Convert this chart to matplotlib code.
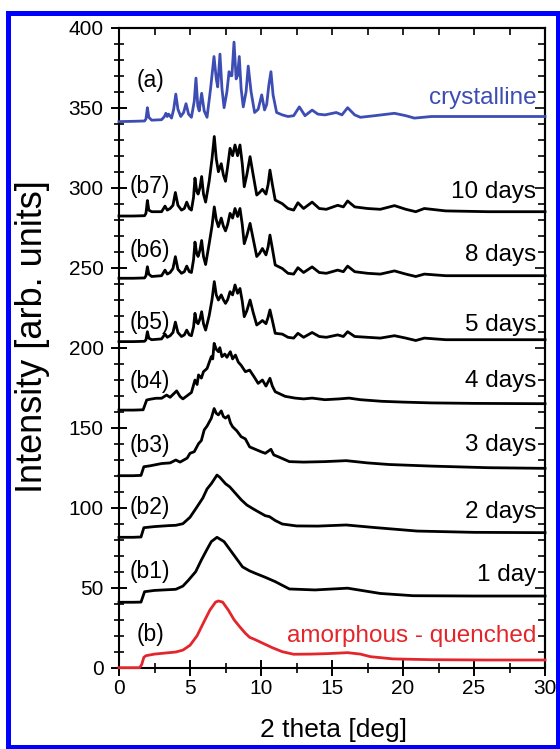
import matplotlib
matplotlib.use("Agg")
import matplotlib.pyplot as plt
from matplotlib.patches import Rectangle
from matplotlib.ticker import MultipleLocator

plt.rcParams['font.family'] = ['Liberation Sans', 'DejaVu Sans']

#stacking offsets of each pattern
OFFSETS = {"a": 340, "b7": 280, "b6": 240, "b5": 200, "b4": 160, "b3": 120, "b2": 80, "b1": 40, "b": 0}

#crystalline pattern (a)
x_a = [0, 1.0, 1.8, 1.9, 2.0, 2.1, 2.3, 3.0, 3.2, 3.3, 3.4, 3.5, 3.7, 3.85, 4.0, 4.15, 4.35, 4.55,
       4.72, 4.9, 5.1, 5.3, 5.42, 5.55, 5.65, 5.82, 6.0, 6.2, 6.45, 6.69, 6.85, 6.95, 7.11, 7.25, 7.4,
       7.6, 7.75, 7.88, 7.95, 8.1, 8.25, 8.35, 8.47, 8.6, 8.75, 8.95, 9.1, 9.3, 9.55, 9.8, 10.05,
       10.25, 10.4, 10.55, 10.7, 10.85, 11.1, 11.5, 11.9, 12.3, 12.7, 13.1, 13.6, 14.0, 14.5, 15.3,
       15.7, 16.1, 16.6, 17.0, 18.0, 19.4, 20.2, 20.8, 22, 25, 28, 30]
y_a = [1.3, 1.5, 1.7, 3, 10, 4, 2.2, 2.5, 4.5, 6.5, 4.5, 6, 3.5, 9, 18.5, 9, 4.5, 7,
       12.5, 6, 4, 14, 28.5, 11, 8, 19, 8, 4, 22, 42, 28, 23, 43.5, 22, 10,
       20, 32.5, 30, 30, 51, 28, 30, 42, 22, 10.5, 20, 36, 20, 7, 9, 18,
       8.6, 12, 24, 32.5, 18, 7, 5.5, 4.5, 5, 10.5, 5, 8.5, 6, 5.5, 7,
       5.5, 10, 5.5, 4, 5, 6.5, 5, 3.5, 4.5, 4.5, 4.5, 4.5]

#annealed patterns b5 - b7 share the same peak positions
x_b = [0, 1.0, 1.8, 1.9, 2.0, 2.1, 2.3, 3.0, 3.24, 3.4, 3.6, 3.8, 3.97, 4.15, 4.4, 4.6, 4.77, 4.95,
       5.1, 5.25, 5.35, 5.47, 5.57, 5.7, 5.82, 5.95, 6.1, 6.35, 6.55, 6.71, 6.85, 7.0, 7.2, 7.35,
       7.5, 7.65, 7.82, 8.0, 8.17, 8.35, 8.52, 8.68, 8.82, 9.0, 9.23, 9.45, 9.7, 9.9, 10.1, 10.35,
       10.5, 10.63, 10.8, 11.0, 11.5, 11.9, 12.3, 12.6, 13.0, 13.6, 14.1, 14.6, 15.4, 15.8, 16.1,
       16.6, 17.5, 18.4, 19.4, 20.2, 20.9, 21.5, 23, 26, 30]
y_b7 = [2.3, 2.3, 2.5, 4, 12, 6, 5, 5, 8.5, 6, 7, 9, 17, 9, 6, 7, 11, 7,
        6, 14, 26, 18, 16, 20, 27, 16, 11, 24, 38, 52, 38, 30, 35, 28,
        24, 33, 44.6, 40, 46.7, 40, 46.7, 35, 20.6, 28, 39.4, 28, 15.4, 17, 19, 16,
        22, 31, 22, 12.3, 10, 7, 6, 10.6, 7, 11, 7, 6.5, 9, 8, 11.7,
        8, 7, 6.5, 8.8, 6.5, 5, 7, 5.5, 5, 5]
y_b6 = [3.4, 3.4, 3.6, 5, 10.6, 6, 4.5, 5, 8.5, 6, 7, 9.5, 16.9, 9, 6.5, 7.5, 11, 7.5,
        7, 15, 26, 19, 17, 21, 27, 17, 12, 25, 36, 48, 40, 35.6, 41, 36,
        33, 37, 44, 41, 47, 42, 47, 37, 25, 30, 37.7, 28, 17, 19, 22, 18,
        23, 30.4, 22, 11.7, 9.5, 6.5, 6, 10, 7, 10.5, 7, 6.5, 8.5, 7.5, 11,
        7.5, 6.5, 6, 8, 6, 4.5, 6, 5, 5, 5]
y_b5 = [3.8, 3.8, 4, 5, 10, 6, 5, 5.5, 8.5, 6.5, 7.5, 9.5, 16, 9.5, 7, 8, 11, 8,
        7.5, 13, 21.5, 16, 15, 18, 22.5, 15, 11, 20, 30, 41.3, 33, 29.8, 33, 30,
        27.7, 30, 35, 33, 39.2, 34, 37, 29, 19.4, 23, 29.8, 22, 14.2, 15.5, 17, 15,
        19, 23.6, 17, 9, 8.5, 6.5, 6, 9, 6.5, 9.5, 7, 6.5, 8, 7, 10,
        7, 6.5, 6, 7.5, 6, 4.5, 6, 5, 5, 5]

#4 days
x_b4 = [0, 1.0, 1.7, 1.95, 2.2, 2.6, 3.0, 3.35, 3.6, 4.06, 4.3, 4.5, 4.8, 5.1, 5.35, 5.5, 5.6, 5.8,
        5.95, 6.2, 6.5, 6.6, 6.7, 6.85, 7.0, 7.1, 7.25, 7.45, 7.6, 7.84, 8.0, 8.2, 8.4, 8.6, 8.9,
        9.2, 9.5, 9.8, 10.1, 10.35, 10.63, 10.8, 11.0, 11.7, 12.4, 13.0, 13.6, 14.5, 15.5, 16.2,
        17.0, 18.5, 20, 22, 25, 30]
y_b4 = [1, 1, 1.2, 7.3, 7.8, 8.4, 8.4, 10.4, 9, 13, 9.5, 8, 10, 12, 19.8, 17, 23, 21,
        25, 27, 34.4, 33, 42.7, 39, 37.5, 40, 34.4, 36, 34, 37.5, 33, 35.4, 31, 29, 25,
        26, 22, 17.7, 19.8, 16, 20.9, 16, 12.5, 9.6, 8.5, 8, 8.5, 7.5, 8, 8.5,
        7.5, 6.5, 6, 5.5, 5.2, 5]

#3 days
x_b3 = [0, 1.0, 1.55, 1.75, 2.2, 3.0, 3.6, 4.0, 4.3, 4.8, 5.0, 5.3, 5.6, 5.8, 6.0, 6.2, 6.5, 6.7,
        6.85, 7.0, 7.2, 7.35, 7.5, 7.7, 7.85, 8.0, 8.3, 8.6, 8.9, 9.2, 9.6, 10.0, 10.3, 10.7, 10.9,
        11.2, 12.0, 13.0, 14.5, 16.0, 17.5, 19.0, 22.0, 26, 30]
y_b3 = [0, 0, 0.2, 5.6, 6.2, 7.6, 8, 9.8, 8.5, 11, 14, 15, 20, 22, 28.6, 31, 35.9, 42,
        39, 38, 40.5, 37, 36, 37.5, 33, 30.6, 28, 24.4, 23, 18, 16.5, 15, 14, 16.5, 13,
        11.9, 8.8, 8.5, 8.8, 9.4, 8, 7, 6, 5, 4.6]

#2 days
x_b2 = [0, 1.0, 1.55, 1.75, 2.5, 3.5, 4.0, 4.5, 5.0, 5.5, 5.9, 6.2, 6.5, 6.9, 7.1, 7.5, 7.8, 8.2,
        8.6, 9.0, 9.5, 10.0, 10.3, 10.6, 11.0, 11.5, 12.5, 14.0, 16.0, 18.0, 21.0, 25, 30]
y_b2 = [1.5, 1.5, 1.7, 7.5, 8.2, 8.8, 9, 10, 14, 20.6, 26, 31.7, 35, 40.4, 39, 35, 33, 29,
        25, 21.7, 19, 16.5, 15, 14.4, 12, 9.8, 8.6, 8.5, 9.2, 7.6, 5.4, 4.6, 4.4]

#1 day
x_b1 = [0, 1.0, 1.55, 1.8, 2.5, 4.0, 4.5, 4.9, 5.4, 5.8, 6.2, 6.5, 6.9, 7.4, 8.0, 8.7, 9.2, 9.6,
        10.3, 11.0, 12.0, 13.8, 16.1, 18.4, 20.7, 25, 30]
y_b1 = [0.9, 0.9, 1.0, 7.5, 8.3, 9, 11, 14.8, 20, 27.3, 34, 38.8, 41.5, 38.8, 31.5, 23, 20.5, 19,
        16.5, 13.8, 9.2, 8.6, 9.7, 6.4, 5, 4.8, 4.8]

#amorphous - quenched (b)
x_am = [0, 1.45, 1.6, 1.75, 1.9, 2.5, 3.3, 4.0, 4.5, 5.0, 5.5, 6.0, 6.4, 6.8, 7.0, 7.3, 7.7, 8.1,
        8.5, 8.9, 9.2, 9.6, 10.1, 10.8, 11.5, 12.3, 13.5, 14.7, 16.1, 17.0, 17.7, 19.3, 22, 26, 30]
y_am = [0, 0, 2, 6.5, 7.5, 8.5, 9.2, 9.8, 11, 14, 20, 29, 36, 41, 41.7, 41, 36, 30,
        25.6, 21.5, 19, 17.5, 15.4, 12.5, 10, 8.4, 8.5, 8.8, 9.4, 8.5, 6.9, 5.5, 5, 4.8, 4.8]

#left tags, right names
tags = ["(a)", "(b7)", "(b6)", "(b5)", "(b4)", "(b3)", "(b2)", "(b1)", "(b)"]
names = ["crystalline", "10 days", "8 days", "5 days", "4 days", "3 days", "2 days", "1 day",
         "amorphous - quenched"]
tag_y = [367, 301, 261, 216, 179, 139, 100, 60, 20.5]
name_y = [356, 297.5, 258, 214, 179, 139, 97.5, 58, 20]

BLUE = "#3d4db3"
RED = "#e3262b"

fig = plt.figure(figsize=(5.6, 7.49), dpi=100)
ax = fig.add_axes([119 / 560, 81.3 / 749, 426 / 560, 640 / 749])

curves = [(x_a, y_a, "a", BLUE), (x_b, y_b7, "b7", "black"), (x_b, y_b6, "b6", "black"),
          (x_b, y_b5, "b5", "black"), (x_b4, y_b4, "b4", "black"), (x_b3, y_b3, "b3", "black"),
          (x_b2, y_b2, "b2", "black"), (x_b1, y_b1, "b1", "black"), (x_am, y_am, "b", RED)]
for xs, ys, key, col in curves:
    ax.plot(xs, [v + OFFSETS[key] for v in ys], color=col, lw=2.0, clip_on=False, zorder=3,
            solid_joinstyle="round")

for i in range(len(tags)):
    ax.text(2.2, tag_y[i], tags[i], fontsize=16.5, ha="center", va="center")
    col = BLUE if i == 0 else (RED if i == len(names) - 1 else "black")
    ax.text(29.4, name_y[i], names[i], fontsize=17.5, ha="right", va="center", color=col)

ax.set_xlim(0, 30)
ax.set_ylim(0, 400)
ax.xaxis.set_major_locator(MultipleLocator(5))
ax.xaxis.set_minor_locator(MultipleLocator(2.5))
ax.yaxis.set_major_locator(MultipleLocator(50))
ax.yaxis.set_minor_locator(MultipleLocator(10))
ax.tick_params(which="major", direction="inout", length=12, width=1.4, labelsize=15, pad=2)
ax.tick_params(axis="y", which="major", pad=5)
ax.tick_params(which="minor", direction="inout", length=7, width=1.2)
for s in ax.spines.values():
    s.set_linewidth(1.5)

#top and right ticks point inward only
top = ax.secondary_xaxis("top")
top.xaxis.set_major_locator(MultipleLocator(5))
top.xaxis.set_minor_locator(MultipleLocator(2.5))
top.tick_params(which="both", direction="in", length=5, width=1.2, labeltop=False)
right = ax.secondary_yaxis("right")
right.yaxis.set_major_locator(MultipleLocator(50))
right.yaxis.set_minor_locator(MultipleLocator(10))
right.tick_params(which="major", direction="in", length=7, width=1.2, labelright=False)
right.tick_params(which="minor", direction="in", length=5, width=1.2)
top.spines["top"].set_linewidth(1.5)
right.spines["right"].set_linewidth(1.5)

fig.text(333 / 560, 1 - 730 / 749, "2 theta [deg]", fontsize=19, ha="center", va="center")
fig.text(33 / 560, 1 - 337 / 749, "Intensity [arb. units]", fontsize=26, ha="center",
         va="center", rotation=90)

#blue frame round the picture
fig.patches.append(Rectangle((7.5 / 560, 2.5 / 749), 550 / 560, 734 / 749, transform=fig.transFigure,
                             fill=False, edgecolor="#0000ff", lw=3.6))

plt.savefig("out.png", dpi=100)
